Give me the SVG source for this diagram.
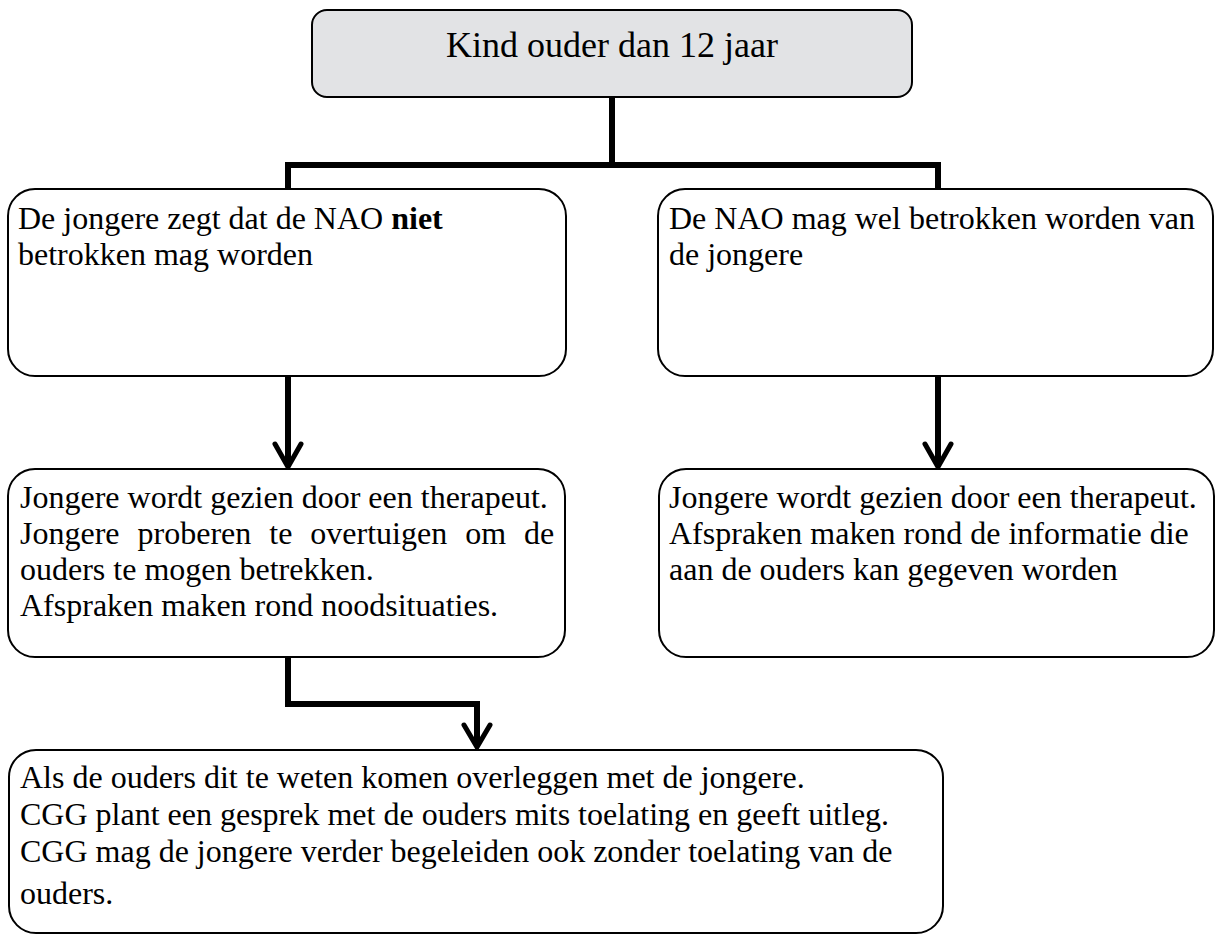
<svg xmlns="http://www.w3.org/2000/svg" width="1216" height="934" viewBox="0 0 1216 934">
<style>
.box{fill:#ffffff;stroke:#000;stroke-width:2}
.top{fill:#e2e3e5;stroke:#000;stroke-width:2}
.t{font-family:"Liberation Serif","Times New Roman",serif;font-size:32px;fill:#000}
.tt{font-family:"Liberation Serif","Times New Roman",serif;font-size:36px;fill:#000}
.c{fill:none;stroke:#000;stroke-width:6}
.ah{fill:none;stroke:#000;stroke-width:5;stroke-linejoin:miter;stroke-linecap:round}
</style>
<rect width="1216" height="934" fill="#fff"/>
<g id="connectors">
<polyline class="c" points="612,97 612,165"/>
<polyline class="c" points="288,189 288,165 938,165 938,189"/>
<line class="c" x1="288" y1="376" x2="288" y2="466"/>
<polyline class="ah" points="275,444 288,467 301,444"/>
<line class="c" x1="938" y1="376" x2="938" y2="466"/>
<polyline class="ah" points="925,444 938,467 951,444"/>
<polyline class="c" points="288,657 288,704 477,704 477,746"/>
<polyline class="ah" points="464,725 477,747 490,725"/>
</g>
<g id="n-top">
<rect class="top" x="312" y="10" width="600" height="87" rx="15"/>
<text class="tt" x="612" y="57" text-anchor="middle">Kind ouder dan 12 jaar</text>
</g>
<g id="n-left1">
<rect class="box" x="8" y="189" width="558" height="187" rx="27"/>
<text class="t" x="18" y="229">De jongere zegt dat de NAO <tspan font-weight="bold">niet</tspan></text>
<text class="t" x="18" y="265">betrokken mag worden</text>
</g>
<g id="n-right1">
<rect class="box" x="658" y="189" width="555" height="187" rx="27"/>
<text class="t" x="669" y="229">De NAO mag wel betrokken worden van</text>
<text class="t" x="669" y="265">de jongere</text>
</g>
<g id="n-left2">
<rect class="box" x="8" y="469" width="557" height="188" rx="27"/>
<text class="t" x="20" y="508">Jongere wordt gezien door een therapeut.</text>
<text class="t" x="20" y="544" word-spacing="10">Jongere proberen te overtuigen om de</text>
<text class="t" x="20" y="580">ouders te mogen betrekken.</text>
<text class="t" x="20" y="616">Afspraken maken rond noodsituaties.</text>
</g>
<g id="n-right2">
<rect class="box" x="659" y="469" width="555" height="188" rx="27"/>
<text class="t" x="669" y="508">Jongere wordt gezien door een therapeut.</text>
<text class="t" x="669" y="544">Afspraken maken rond de informatie die</text>
<text class="t" x="669" y="580">aan de ouders kan gegeven worden</text>
</g>
<g id="n-bottom">
<rect class="box" x="9" y="750" width="934" height="183" rx="27"/>
<text class="t" x="20" y="788">Als de ouders dit te weten komen overleggen met de jongere.</text>
<text class="t" x="20" y="825">CGG plant een gesprek met de ouders mits toelating en geeft uitleg.</text>
<text class="t" x="20" y="862">CGG mag de jongere verder begeleiden ook zonder toelating van de</text>
<text class="t" x="20" y="904">ouders.</text>
</g>
</svg>
